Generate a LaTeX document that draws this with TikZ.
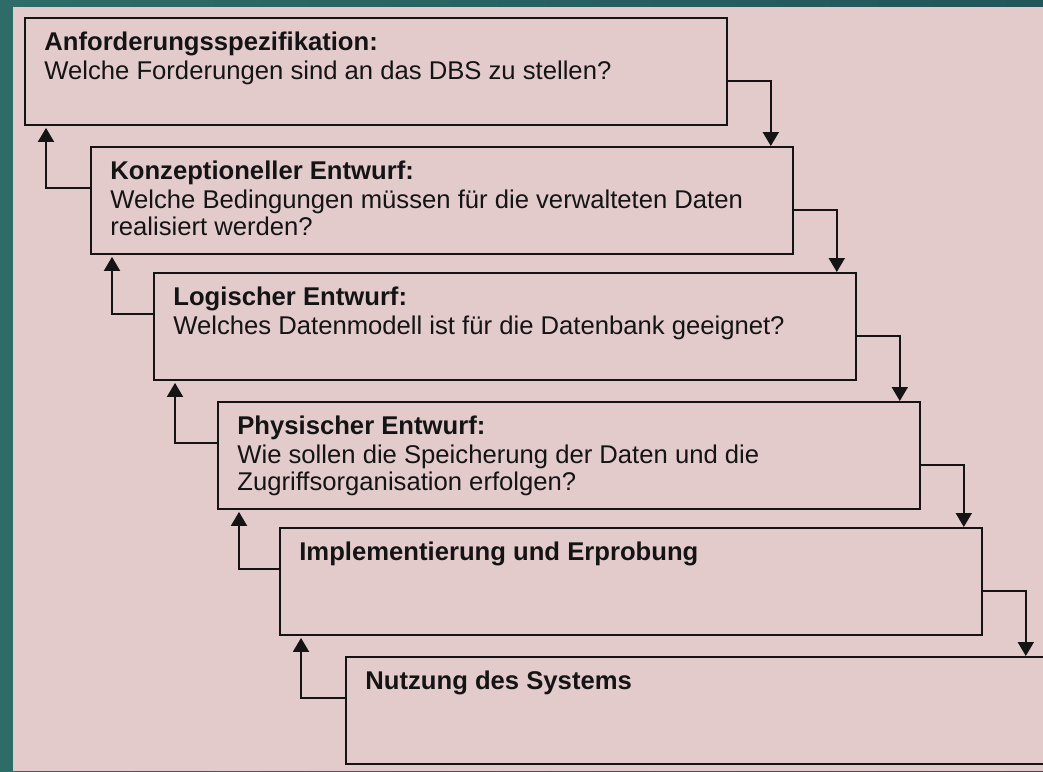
\documentclass[tikz,border=0pt]{standalone}
\usepackage{fontspec}
\setmainfont{Liberation Sans}
\usetikzlibrary{arrows.meta,positioning,calc}
\definecolor{bgteal}{RGB}{46,108,104}
\definecolor{bgtealdk}{RGB}{34,86,90}
\definecolor{panel}{RGB}{227,203,204}
\definecolor{ink}{RGB}{20,20,20}

\begin{document}
\begin{tikzpicture}[x=0.02cm, y=-0.02cm,
    phase/.style={draw=ink, line width=1.1pt, minimum width=14.04cm,
      minimum height=2.14cm, anchor=north west, inner sep=0pt},
    phasetxt/.style={align=left, inner sep=0pt, text=ink,
      font=\fontsize{14.6}{15.4}\selectfont},
    down/.style={draw=ink, line width=1.1pt,
      -{Triangle[width=0.32cm,length=0.28cm]}},
    back/.style={down, shorten >=0.04cm}]
  \useasboundingbox (0,0) rectangle (1043,771);
  % background
  \shade[left color=bgteal, right color=bgtealdk] (0,0) rectangle (1043,771);
  \fill[panel] (13,7) rectangle (1043,771);

  % phases
  \node[phase] (b1) at (24,17) {};
  \node[phase] (b2) at (90,146) {};
  \node[phase] (b3) at (153,272) {};
  \node[phase] (b4) at (217,401) {};
  \node[phase] (b5) at (279,527) {};
  \node[phase] (b6) at (345,656) {};

  \node[phasetxt, below right=0.29cm and 0.4cm of b1.north west] (t1)
    {\textbf{Anforderungsspezifikation:}\\[1.1pt]
     Welche Forderungen sind an das DBS zu stellen?};
  \node[phasetxt, below right=0.29cm and 0.4cm of b2.north west] (t2)
    {\textbf{Konzeptioneller Entwurf:}\\[1.1pt]
     Welche Bedingungen müssen für die verwalteten Daten\\
     realisiert werden?};
  \node[phasetxt, below right=0.29cm and 0.4cm of b3.north west] (t3)
    {\textbf{Logischer Entwurf:}\\[1.1pt]
     Welches Datenmodell ist für die Datenbank geeignet?};
  \node[phasetxt, below right=0.29cm and 0.4cm of b4.north west] (t4)
    {\textbf{Physischer Entwurf:}\\[1.1pt]
     Wie sollen die Speicherung der Daten und die\\
     Zugriffsorganisation erfolgen?};
  \node[phasetxt, below right=0.29cm and 0.4cm of b5.north west] (t5)
    {\textbf{Implementierung und Erprobung}};
  \node[phasetxt, below right=0.29cm and 0.4cm of b6.north west] (t6)
    {\textbf{Nutzung des Systems}};

  % forward arrows
  \coordinate (d1) at ($(b1.north east)+(43,0)$);
  \coordinate (d2) at ($(b2.north east)+(43,0)$);
  \coordinate (d3) at ($(b3.north east)+(43,0)$);
  \coordinate (d4) at ($(b4.north east)+(43,0)$);
  \coordinate (d5) at ($(b5.north east)+(43,0)$);
  \draw[down] ($(b1.north east)+(0,64)$) -| (d1 |- b2.north);
  \draw[down] ($(b2.north east)+(0,64)$) -| (d2 |- b3.north);
  \draw[down] ($(b3.north east)+(0,64)$) -| (d3 |- b4.north);
  \draw[down] ($(b4.north east)+(0,64)$) -| (d4 |- b5.north);
  \draw[down] ($(b5.north east)+(0,64)$) -| (d5 |- b6.north);

  % feedback arrows
  \coordinate (u1) at ($(b1.south west)+(22,0)$);
  \coordinate (u2) at ($(b2.south west)+(22,0)$);
  \coordinate (u3) at ($(b3.south west)+(22,0)$);
  \coordinate (u4) at ($(b4.south west)+(22,0)$);
  \coordinate (u5) at ($(b5.south west)+(22,0)$);
  \draw[back] ($(b2.north west)+(0,42)$) -| (u1);
  \draw[back] ($(b3.north west)+(0,42)$) -| (u2);
  \draw[back] ($(b4.north west)+(0,42)$) -| (u3);
  \draw[back] ($(b5.north west)+(0,42)$) -| (u4);
  \draw[back] ($(b6.north west)+(0,42)$) -| (u5);
\end{tikzpicture}
\end{document}
